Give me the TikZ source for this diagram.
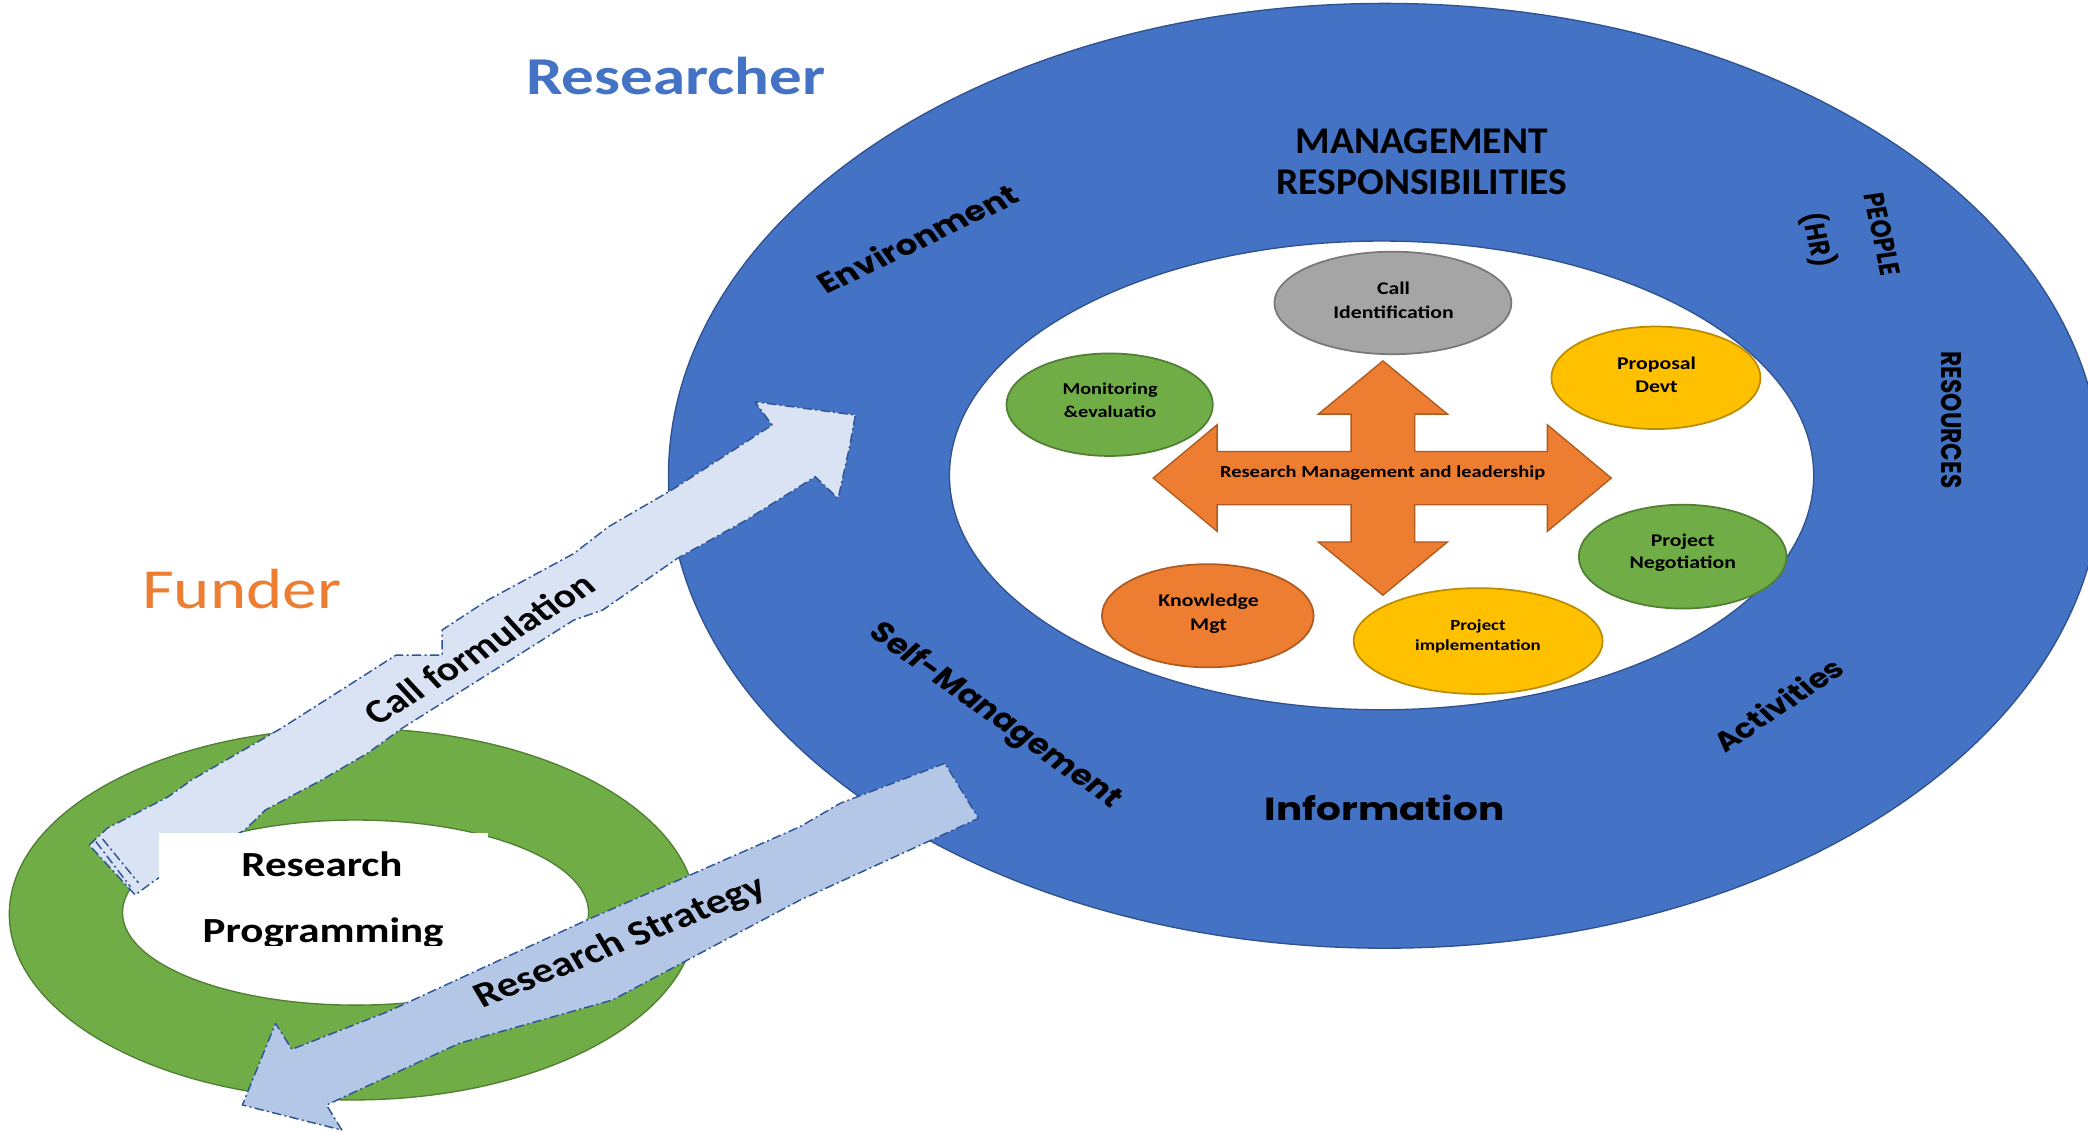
\documentclass[tikz,border=0pt]{standalone}
\usepackage{fontspec}
\setmainfont{Carlito}
\newfontfamily\gothic{Poppins}
\usepackage{graphicx}
\usetikzlibrary{shapes.geometric}
\definecolor{bluefill}{HTML}{4472C4}
\definecolor{blueline}{HTML}{2F528F}
\definecolor{greenfill}{HTML}{70AD47}
\definecolor{greenline}{HTML}{507E32}
\definecolor{orangefill}{HTML}{ED7D31}
\definecolor{orangeline}{HTML}{AE5A21}
\definecolor{yellowfill}{HTML}{FFC000}
\definecolor{yellowline}{HTML}{BC8C00}
\definecolor{grayfill}{HTML}{A5A5A5}
\definecolor{grayline}{HTML}{787878}
\definecolor{callfill}{HTML}{DAE3F3}
\definecolor{stratfill}{HTML}{B4C7E7}
\definecolor{arrowline}{HTML}{2F5597}
\newcommand\stx[2][0]{\scalebox{1.22}[1]{\rotatebox{#1}{#2}}}
\newcommand\fs[2]{\fontsize{#1}{#2}\selectfont}
\newcommand\twol[2]{\begin{tabular}{@{}c@{}}#1\\#2\end{tabular}}
\tikzset{
  lbl/.style={inner sep=0pt, outer sep=0pt},
  ring/.style={ellipse, inner sep=0pt, line width=1pt},
  bubble/.style={ellipse, inner sep=0pt, line width=1.3pt},
  flowarrow/.style={draw=arrowline, line width=1.1pt, dash pattern=on 7pt off 2.5pt on 1.5pt off 2.5pt, line join=round},
}
\begin{document}
\begin{tikzpicture}[x=1pt,y=-1pt]
\clip (0,0) rectangle (1568,849);
\fill[white] (0,0) rectangle (1568,849);

% researcher rings
\node[ring, draw=blueline, fill=bluefill, minimum width=1076pt, minimum height=709.5pt] (outer) at (1040,357.3) {};
\node[ring, draw=blueline, fill=white, minimum width=649pt, minimum height=352pt] (inner) at (1037.5,357) {};

% bubbles
\node[bubble, draw=grayline, fill=grayfill, minimum width=178pt, minimum height=77pt] (callid) at (1046,227.5) {};
\node[bubble, draw=yellowline, fill=yellowfill, minimum width=157pt, minimum height=77pt] (prop) at (1243.5,283.7) {};
\node[bubble, draw=greenline, fill=greenfill, minimum width=155pt, minimum height=77pt] (monit) at (833.3,303.9) {};
\node[bubble, draw=greenline, fill=greenfill, minimum width=156pt, minimum height=78pt] (nego) at (1263.6,418) {};
\node[bubble, draw=orangeline, fill=orangefill, minimum width=159pt, minimum height=77.5pt] (know) at (907,462.4) {};
\node[bubble, draw=yellowline, fill=yellowfill, minimum width=187pt, minimum height=79.5pt] (impl) at (1110,481.4) {};

\node[lbl] (callidL) at (1046.5,226.75) {\stx{\fs{13.4}{17.5}\bfseries\twol{Call}{Identification}}};
\node[lbl] (propL) at (1244,282.65) {\stx{\fs{13.4}{17.5}\bfseries\twol{Proposal}{Devt}}};
\node[lbl] (monitL) at (833.6,301.6) {\stx{\fs{12.5}{16.8}\bfseries\twol{Monitoring}{\&evaluatio}}};
\node[lbl] (negoL) at (1263.7,415.4) {\stx{\fs{13.4}{16.3}\bfseries\twol{Project}{Negotiation}}};
\node[lbl] (knowL) at (907.6,460.85) {\stx{\fs{13.4}{17.5}\bfseries\twol{Knowledge}{Mgt}}};
\node[lbl] (implL) at (1109.9,477.75) {\stx{\fs{11.6}{15.5}\bfseries\twol{Project}{implementation}}};

% central cross arrow
\draw[fill=orangefill, draw=orangeline, line width=1pt, line join=miter]
  (866,359) -- (914,319) -- (914,339) -- (1014.6,339) -- (1014.6,311) -- (990,311)
  -- (1038.5,271) -- (1087,311) -- (1062.4,311) -- (1062.4,339) -- (1162,339)
  -- (1162,319) -- (1210,359) -- (1162,399) -- (1162,379) -- (1062.4,379)
  -- (1062.4,407) -- (1087,407) -- (1038.5,447) -- (990,407) -- (1014.6,407)
  -- (1014.6,379) -- (914,379) -- (914,399) -- cycle;
\node[lbl, anchor=base] (rml) at (1038.3,358.5) {\stx{\fs{12.6}{15}\bfseries Research Management and leadership}};

% funder ring
\node[ring, draw=greenline, fill=greenfill, minimum width=516pt, minimum height=279pt] (gouter) at (265,686.5) {};
\node[ring, draw=greenline, fill=white, minimum width=350pt, minimum height=139pt] (ginner) at (267,685.3) {};

% call formulation arrow
\path[flowarrow, fill=callfill]
  (67,634.6) -- (80.5,622) -- (126.4,598.3) -- (143.7,585.8) -- (211,547) -- (297.5,491.9)
  -- (332,491.9) -- (332,473.1) -- (366.4,450.6) -- (431,415.6) -- (457,395.5) -- (504.4,368)
  -- (579.8,319.2) -- (566.9,301.7) -- (642.3,311.7) -- (638,335.5) -- (629.4,374.3)
  -- (612.2,358) -- (560.4,390.5) -- (508.7,419.3) -- (452.6,458.1) -- (431,465.6)
  -- (301.8,547) -- (275.9,565.7) -- (241.4,585.8) -- (199.2,608.3) -- (183.9,623.3)
  -- (130,652) -- (115,662.1) -- (101.5,672) -- cycle;
\draw[flowarrow] (72,632) -- (98,666);
\draw[flowarrow] (77,630) -- (104,663);
\node[lbl] (callform) at (360,487) {\stx[37]{\fs{25.5}{30}\bfseries Call formulation}};

% research programming text box
\node[fill=white, inner sep=0pt, minimum width=247pt, minimum height=85pt, anchor=north west] (rpbox) at (119,625) {};
\begin{scope}
\clip (119,625) rectangle (366,710);
\node[lbl, anchor=base] (rp1) at (241.8,658.4) {\stx{\fs{26.5}{32}\bfseries Research}};
\node[lbl, anchor=base] (rp2) at (242.7,708) {\stx{\fs{26.5}{32}\bfseries Programming}};
\end{scope}

% research strategy arrow
\path[flowarrow, fill=stratfill]
  (709.6,573.2) -- (630.8,603.3) -- (600.8,620.8) -- (521,655.9) -- (440.6,690.9)
  -- (291.2,759.7) -- (219.2,788) -- (206.9,768.5) -- (182,829.8) -- (256.7,848.6)
  -- (245.2,829.8) -- (344.8,783.5) -- (459.8,751) -- (600.8,675.9) -- (699.5,630.8)
  -- (734.8,614.5) -- cycle;
\node[lbl] (resstrat) at (466,708) {\stx[26]{\fs{26.5}{31}\bfseries Research Strategy}};

% titles
\node[lbl, anchor=base, text=bluefill] (researcher) at (507.5,70.6) {\stx{\fs{40}{48}\bfseries Researcher}};
\node[lbl, anchor=base, text=orangefill] (funder) at (181.5,456.9) {\stx{\fs{42.5}{50}Funder}};

% ring labels
\node[lbl, anchor=base] (mgmt1) at (1067.7,115.1) {\scalebox{1.1}[1.05]{\fs{27}{32}\bfseries MANAGEMENT}};
\node[lbl, anchor=base] (mgmt2) at (1067.7,146.4) {\scalebox{1.1}[1.05]{\fs{27}{32}\bfseries RESPONSIBILITIES}};
\node[lbl, anchor=base] (info) at (1039.8,615.8) {\stx{\fs{24}{29}\gothic\bfseries Information}};
\node[lbl] (env) at (689,179) {\stx[30.5]{\fs{21}{25}\gothic\bfseries Environment}};
\node[lbl] (selfm) at (747,538) {\stx[-41]{\fs{21}{25}\gothic\bfseries Self-Management}};
\node[lbl] (activ) at (1335,529) {\stx[39.4]{\fs{20}{24}\gothic\bfseries Activities}};
\node[lbl] (people) at (1413.7,176) {\stx[-80]{\fs{17.5}{21}\gothic\bfseries PEOPLE}};
\node[lbl] (hr) at (1365.5,180) {\stx[-79]{\fs{17.5}{21}\gothic\bfseries (HR)}};
\node[lbl] (resources) at (1465.4,315.4) {\stx[-90]{\fs{17.5}{21}\gothic\bfseries RESOURCES}};
\end{tikzpicture}
\end{document}
